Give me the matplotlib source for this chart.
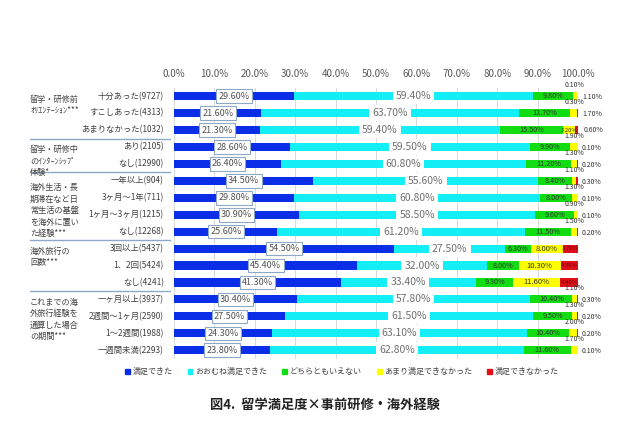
import numpy as np
import matplotlib
import matplotlib.pyplot as plt
from matplotlib.patches import Patch
from matplotlib.lines import Line2D

matplotlib.use('Agg')
plt.rcParams['font.family'] = ['Noto Sans CJK JP', 'DejaVu Sans']

# Row labels (top to bottom)
rows = ["十分あった(9727)", "すこしあった(4313)", "あまりなかった(1032)",
        "あり(2105)", "なし(12990)",
        "一年以上(904)", "3ヶ月～1年(711)", "1ヶ月～3ヶ月(1215)", "なし(12268)",
        "3回以上(5437)", "1、2回(5424)", "なし(4241)",
        "一ヶ月以上(3937)", "2週間～1ヶ月(2590)", "1～2週間(1988)", "一週間未満(2293)"]

very = [29.6, 21.6, 21.3, 28.6, 26.4, 34.5, 29.8, 30.9, 25.6, 54.5, 45.4, 41.3, 30.4, 27.5, 24.3, 23.8]
mostly = [59.4, 63.7, 59.4, 59.5, 60.8, 55.6, 60.8, 58.5, 61.2, 27.5, 32.0, 33.4, 57.8, 61.5, 63.1, 62.8]
neutral = [9.8, 12.7, 15.5, 9.9, 11.2, 8.4, 8.0, 9.6, 11.5, 6.3, 8.0, 9.3, 10.4, 9.5, 10.4, 11.6]
notmuch = [1.1, 1.7, 3.2, 1.9, 1.3, 1.1, 1.3, 0.9, 1.5, 8.0, 10.3, 11.6, 1.1, 1.3, 2.0, 1.7]
notsat = [0.1, 0.3, 0.6, 0.1, 0.2, 0.3, 0.1, 0.1, 0.2, 3.7, 4.3, 4.4, 0.3, 0.2, 0.2, 0.1]
# rows where the small labels were placed the other way round
swap = [True, True] + [False] * 14

groups = ["留学・研修前\nｵﾘｴﾝﾃｰｼｮﾝ***",
          "留学・研修中\nのｲﾝﾀｰﾝｼｯﾌﾟ\n体験*",
          "海外生活・長\n期滞在など日\n常生活の基盤\nを海外に置い\nた経験***",
          "海外旅行の\n回数***",
          "これまでの海\n外旅行経験を\n通算した場合\nの期間***"]
group_start = [0, 3, 5, 9, 12]

series = ["満足できた", "おおむね満足できた", "どちらともいえない", "あまり満足できなかった", "満足できなかった"]
colors = ['#0A2EE8', '#14EEF6', '#12DC12', '#FFFF00', '#E0101A']

fig = plt.figure(figsize=(6.4, 4.26), dpi=100)
ax = fig.add_axes([0.272, 0.158, 0.631, 0.636])

y = np.arange(len(rows))
data = [very, mostly, neutral, notmuch, notsat]
left = np.zeros(len(rows))
for vals, c in zip(data, colors):
    ax.barh(y, vals, left=left, height=0.48, color=c, zorder=2)
    left += np.array(vals)

for i in range(len(rows)):
    b, cy, g, yl, r = very[i], mostly[i], neutral[i], notmuch[i], notsat[i]
    ax.text(b / 2, i, f"{b:.2f}%", ha='center', va='center', fontsize=6.5, color='#505050', zorder=4,
            bbox=dict(boxstyle='square,pad=0.25', fc='white', ec='#8EA9C8', lw=0.8))
    ax.text(b + cy / 2, i, f"{cy:.2f}%", ha='center', va='center', fontsize=7.5, color='#707070', zorder=4,
            bbox=dict(boxstyle='square,pad=0.3', fc='white', ec='none'))
    ax.text(b + cy + g / 2, i, f"{g:.2f}%", ha='center', va='center', fontsize=5.2, color='#333333', zorder=4)
    if yl >= 3:
        ax.text(b + cy + g + yl / 2, i, f"{yl:.2f}%", ha='center', va='center', fontsize=5.5 if yl > 5 else 4.2,
                color='#333333', zorder=4)
        if r >= 3:
            ax.text(100 - r / 2, i, f"{r:.2f}%", ha='center', va='center', fontsize=4.3, color='#700000', zorder=4)
        else:
            ax.text(101.3, i, f"{r:.2f}%", ha='left', va='center', fontsize=5, color='#333333', zorder=4)
    else:
        top, right = (r, yl) if swap[i] else (yl, r)
        ax.text(99.2, i - 0.42, f"{top:.2f}%", ha='center', va='bottom', fontsize=5, color='#333333', zorder=4)
        ax.text(101, i + 0.05, f"{right:.2f}%", ha='left', va='center', fontsize=5, color='#333333', zorder=4)

ax.set_xlim(0, 100)
ax.set_ylim(len(rows) - 0.5, -0.5)
ax.set_xticks(np.arange(0, 101, 10))
ax.set_xticklabels([f"{v:.1f}%" for v in range(0, 101, 10)], fontsize=7, color='#595959')
ax.xaxis.tick_top()
ax.tick_params(axis='x', length=0, pad=6)
ax.set_yticks([])
ax.grid(axis='x', color='#D9D9D9', lw=0.7, zorder=0)
for s in ax.spines.values():
    s.set_visible(False)

# row labels and group labels
tr = matplotlib.transforms.blended_transform_factory(fig.transFigure, ax.transData)
for i, lab in enumerate(rows):
    ax.text(0.256, i, lab, transform=tr, ha='right', va='center', fontsize=6, color='#404040')
for gi, (g, s) in enumerate(zip(groups, group_start)):
    ax.text(0.047, s - 0.1 if gi != 2 else s + 0.15, g, transform=tr, ha='left', va='top', fontsize=5.9,
            color='#404040', linespacing=1.35)
    if s > 0:
        ax.add_line(Line2D([0.047, 0.265], [s - 0.5, s - 0.5], transform=tr, color='#8EA9C8', lw=1.0,
                           clip_on=False))

handles = [Patch(color=c) for c in colors]
fig.legend(handles, series, loc='center', bbox_to_anchor=(0.534, 0.127), ncol=5, frameon=False,
           fontsize=5.8, handlelength=0.6, handleheight=0.6, handletextpad=0.3, columnspacing=1.9,
           labelcolor='#404040')

fig.text(0.508, 0.049, "図4.  留学満足度×事前研修・海外経験", ha='center', va='center', fontsize=9.5,
         fontweight='bold', color='#222222')

fig.savefig("out.png", dpi=100)
